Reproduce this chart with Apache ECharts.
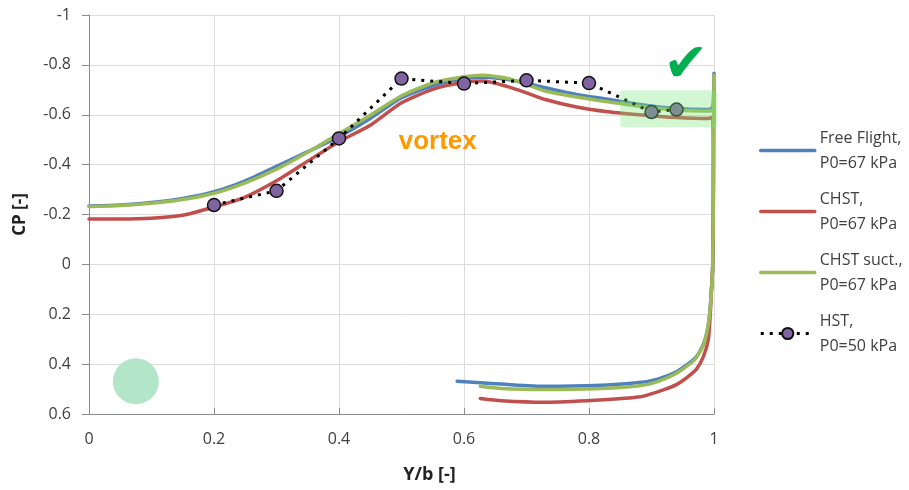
<!DOCTYPE html>
<html>
<head>
<meta charset="utf-8">
<script src="https://cdn.jsdelivr.net/npm/echarts@6/dist/echarts.min.js"></script>
<style>
  html, body { margin: 0; padding: 0; background: #ffffff; }
  #chart { width: 909px; height: 490px; }
</style>
</head>
<body>
<div id="chart"></div>
<script>
// Spanwise pressure coefficient distributions (upper surface out to the tip, then back along the lower surface)
const seriesNames = [
  'Free Flight,\nP0=67 kPa',
  'CHST,\nP0=67 kPa',
  'CHST suct.,\nP0=67 kPa',
  'HST,\nP0=50 kPa'
];

// [Y/b, CP]
const freeFlight = [
  [0, -0.234], [0.05, -0.238], [0.10, -0.248], [0.15, -0.264], [0.20, -0.291],
  [0.25, -0.335], [0.30, -0.393], [0.35, -0.452], [0.40, -0.512], [0.45, -0.585],
  [0.50, -0.668], [0.55, -0.716], [0.60, -0.744], [0.63, -0.750], [0.67, -0.741],
  [0.70, -0.726], [0.73, -0.708], [0.78, -0.681], [0.83, -0.662], [0.89, -0.638],
  [0.94, -0.625], [0.99, -0.621], [0.998, -0.63], [1.0, -0.766],
  [0.999, -0.3], [0.998, 0.0], [0.996, 0.1], [0.993, 0.2], [0.989, 0.27],
  [0.983, 0.32], [0.97, 0.375], [0.94, 0.431], [0.91, 0.46], [0.88, 0.474],
  [0.81, 0.486], [0.73, 0.489], [0.66, 0.48], [0.626, 0.475], [0.589, 0.469]
];

const chst = [
  [0, -0.182], [0.05, -0.182], [0.10, -0.185], [0.15, -0.197], [0.20, -0.23],
  [0.25, -0.27], [0.30, -0.335], [0.35, -0.414], [0.40, -0.492], [0.45, -0.558],
  [0.50, -0.648], [0.55, -0.702], [0.60, -0.730], [0.63, -0.735], [0.67, -0.713],
  [0.70, -0.688], [0.73, -0.661], [0.78, -0.631], [0.83, -0.612], [0.89, -0.598],
  [0.94, -0.589], [0.99, -0.585], [0.998, -0.59],
  [0.999, -0.3], [0.998, 0.0], [0.996, 0.1], [0.994, 0.2], [0.991, 0.3],
  [0.983, 0.37], [0.972, 0.42], [0.956, 0.455], [0.94, 0.482], [0.92, 0.502],
  [0.882, 0.531], [0.81, 0.545], [0.73, 0.553], [0.66, 0.547], [0.626, 0.538]
];

const chstSuction = [
  [0, -0.232], [0.05, -0.236], [0.10, -0.245], [0.15, -0.26], [0.20, -0.285],
  [0.25, -0.327], [0.30, -0.382], [0.35, -0.45], [0.40, -0.524], [0.45, -0.598],
  [0.50, -0.676], [0.55, -0.728], [0.60, -0.752], [0.63, -0.758], [0.67, -0.746],
  [0.70, -0.722], [0.73, -0.695], [0.78, -0.671], [0.83, -0.652], [0.89, -0.631],
  [0.94, -0.618], [0.99, -0.615], [0.999, -0.62], [1.0, -0.758],
  [0.999, -0.3], [0.998, 0.0], [0.996, 0.1], [0.993, 0.2], [0.988, 0.28],
  [0.982, 0.33], [0.968, 0.385], [0.94, 0.437], [0.91, 0.47], [0.88, 0.487],
  [0.81, 0.499], [0.73, 0.502], [0.66, 0.498], [0.626, 0.489]
];

const hstYb = [0.2, 0.3, 0.4, 0.5, 0.6, 0.7, 0.8, 0.9, 0.94];
const hstCp = [-0.238, -0.295, -0.505, -0.745, -0.725, -0.738, -0.727, -0.611, -0.621];

// Annotation anchors, in axis units
const vortexAnchor = [0.558, -0.492];
const tipBoxCorners = [[0.85, -0.698], [1.005, -0.55]];
const checkAnchor = [0.955, -0.79];
const rootSpotAnchor = [0.075, 0.469];

const FONT = '"Open Sans", "Noto Sans", sans-serif';
const TEXT = '#404040';

const chart = echarts.init(document.getElementById('chart'), null, { renderer: 'canvas' });

const lineSeries = (name, data, color) => ({
  type: 'line',
  name,
  data,
  symbol: 'none',
  showSymbol: false,
  smooth: 0.2,
  lineStyle: { width: 3.5, color, cap: 'round', join: 'round' },
  itemStyle: { color },
  emphasis: { disabled: true }
});

chart.setOption({
  animation: false,
  backgroundColor: '#ffffff',
  grid: { left: 89, right: 195, top: 15, bottom: 76 },
  xAxis: {
    type: 'value',
    min: 0, max: 1, interval: 0.2,
    name: 'Y/b [-]',
    nameLocation: 'middle',
    nameGap: 52,
    nameTextStyle: { fontFamily: FONT, fontSize: 18, fontWeight: 'bold', color: '#222', padding: [0, 0, 0, 56] },
    axisLine: { onZero: false, lineStyle: { color: '#8c8c8c', width: 1 } },
    axisTick: { show: true, inside: true, length: 6, lineStyle: { color: '#8c8c8c' } },
    axisLabel: { fontFamily: FONT, fontSize: 16, color: TEXT, margin: 17 },
    splitLine: { show: true, lineStyle: { color: '#dcdcdc', width: 1 } }
  },
  yAxis: {
    type: 'value',
    inverse: true,
    min: -1, max: 0.6, interval: 0.2,
    name: 'CP [-]',
    nameLocation: 'middle',
    nameGap: 60,
    nameRotate: 90,
    nameTextStyle: { fontFamily: FONT, fontSize: 17, fontWeight: 'bold', color: '#222' },
    axisLine: { show: true, onZero: false, lineStyle: { color: '#8c8c8c', width: 1 } },
    axisTick: { show: true, length: 7, lineStyle: { color: '#8c8c8c' } },
    axisLabel: { fontFamily: FONT, fontSize: 16, color: TEXT, margin: 18 },
    splitLine: { show: true, lineStyle: { color: '#dcdcdc', width: 1 } }
  },
  legend: {
    orient: 'vertical',
    left: 759,
    top: 113,
    padding: 0,
    itemWidth: 54,
    itemHeight: 14,
    itemGap: -14,
    selectedMode: false,
    lineStyle: { width: 3.5 },
    textStyle: { fontFamily: FONT, fontSize: 16, color: TEXT, lineHeight: 25, padding: [25, 0, 0, 0] },
    data: [
      { name: seriesNames[0], itemStyle: { opacity: 0 } },
      { name: seriesNames[1], itemStyle: { opacity: 0 } },
      { name: seriesNames[2], itemStyle: { opacity: 0 } },
      { name: seriesNames[3], lineStyle: { width: 3 } }
    ]
  },
  series: [
    lineSeries(seriesNames[0], freeFlight, '#4f81bd'),
    lineSeries(seriesNames[1], chst, '#c0504d'),
    lineSeries(seriesNames[2], chstSuction, '#9bbb59'),
    {
      type: 'line',
      name: seriesNames[3],
      data: hstYb.map((y, i) => [y, hstCp[i]]),
      symbol: 'circle',
      symbolSize: 13,
      lineStyle: { width: 3, color: '#000000', type: [3, 6] },
      itemStyle: { color: '#8064a2', borderColor: '#111111', borderWidth: 1.5 },
      emphasis: { disabled: true }
    }
  ]
});

// Annotations placed from axis units
const px = (p) => chart.convertToPixel({ gridIndex: 0 }, p);
const boxA = px(tipBoxCorners[0]);
const boxB = px(tipBoxCorners[1]);
const vortexPos = px(vortexAnchor);
const checkPos = px(checkAnchor);
const spotPos = px(rootSpotAnchor);

chart.setOption({
  graphic: [
    {
      type: 'circle',
      z: 100,
      shape: { cx: spotPos[0], cy: spotPos[1], r: 23 },
      style: { fill: '#b3e6c8' }
    },
    {
      type: 'text',
      z: 100,
      x: vortexPos[0], y: vortexPos[1],
      style: {
        text: 'vortex', fill: '#ff9900',
        fontFamily: '"Liberation Sans", Arial, sans-serif', fontSize: 26, fontWeight: 'bold',
        align: 'center', verticalAlign: 'middle'
      }
    },
    {
      type: 'rect',
      z: 100,
      shape: {
        x: Math.min(boxA[0], boxB[0]), y: Math.min(boxA[1], boxB[1]),
        width: Math.abs(boxB[0] - boxA[0]), height: Math.abs(boxB[1] - boxA[1]),
        r: 3
      },
      style: { fill: 'rgba(120, 230, 120, 0.33)' }
    },
    {
      type: 'text',
      z: 100,
      x: checkPos[0], y: checkPos[1],
      style: {
        text: '\u2714', fill: '#00b050',
        fontFamily: '"DejaVu Sans", sans-serif', fontSize: 54, fontWeight: 'bold',
        align: 'center', verticalAlign: 'middle'
      }
    }
  ]
});
</script>
</body>
</html>
